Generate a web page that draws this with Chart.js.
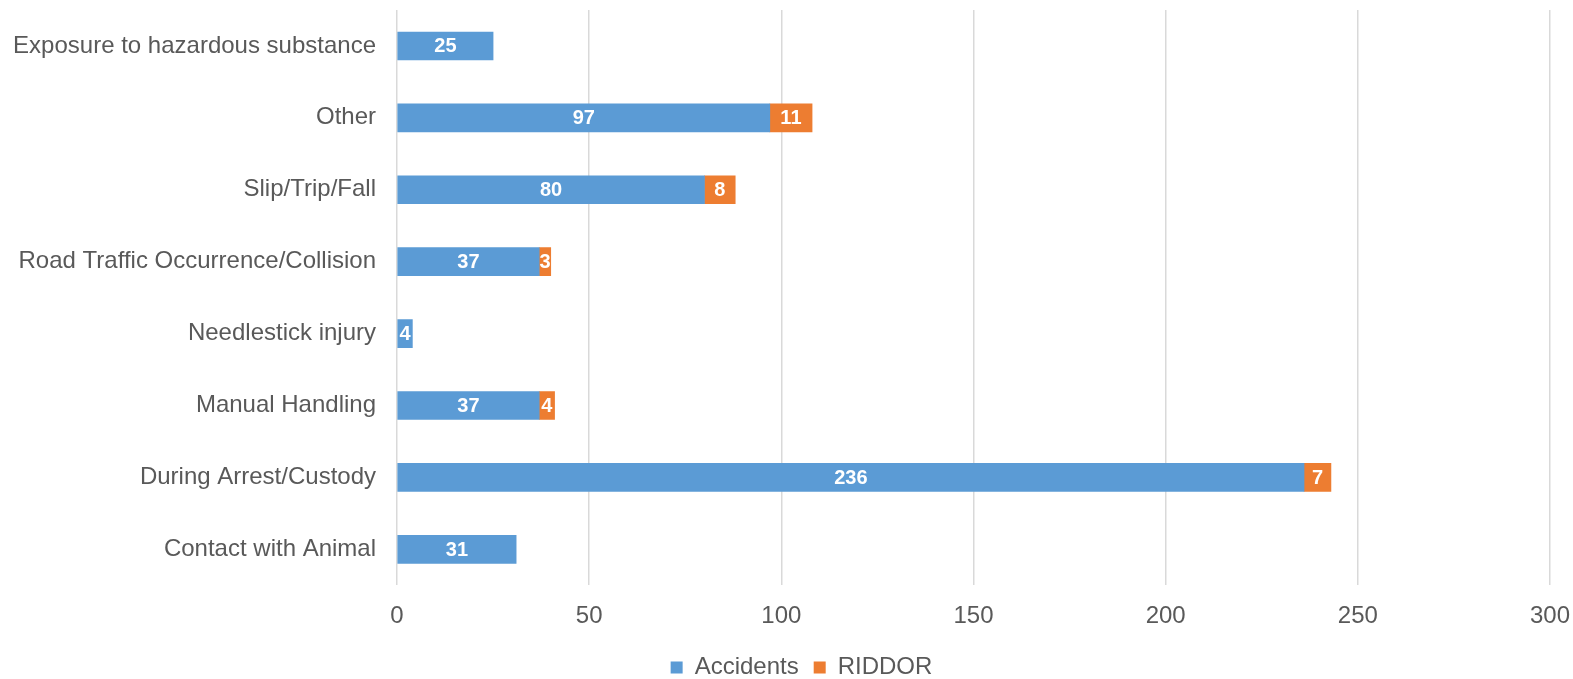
<!DOCTYPE html>
<html>
<head>
<meta charset="utf-8">
<script src="https://cdn.jsdelivr.net/npm/chart.js@4"></script>
<style>
html,body{margin:0;padding:0;background:#fff;}
#wrap{width:1573px;height:679px;position:relative;}
</style>
</head>
<body>
<div id="wrap"><canvas id="c"></canvas></div>
<script>
const categories = ["Exposure to hazardous substance","Other","Slip/Trip/Fall","Road Traffic Occurrence/Collision","Needlestick injury","Manual Handling","During Arrest/Custody","Contact with Animal"];
const accidents = [25, 97, 80, 37, 4, 37, 236, 31];
const riddor = [null, 11, 8, 3, null, 4, 7, null];
const xTicks = [0, 50, 100, 150, 200, 250, 300];

const FONT = "'Liberation Sans', Arial, sans-serif";

const labelPlugin = {
  id: 'barLabels',
  afterDatasetsDraw(chart) {
    const ctx = chart.ctx;
    ctx.save();
    ctx.fillStyle = '#ffffff';
    ctx.font = "bold 20px " + FONT;
    ctx.textAlign = 'center';
    ctx.textBaseline = 'middle';
    chart.data.datasets.forEach((ds, i) => {
      const meta = chart.getDatasetMeta(i);
      meta.data.forEach((el, j) => {
        const v = ds.data[j];
        if (v === null || v === undefined) return;
        const p = el.getProps(['x','y','base'], true);
        ctx.fillText(String(v), (p.x + p.base) / 2, p.y + 1);
      });
    });
    ctx.restore();
  }
};

const legendShift = {
  id: 'legendShift',
  afterLayout(chart) {
    if (chart.legend) { chart.legend.left += 15; chart.legend.right += 15; }
  }
};

new Chart(document.getElementById('c'), {
  type: 'bar',
  data: {
    labels: categories,
    datasets: [
      {label: 'Accidents', data: accidents, backgroundColor: '#5B9BD5', barThickness: 28},
      {label: 'RIDDOR', data: riddor, backgroundColor: '#ED7D31', barThickness: 28}
    ]
  },
  options: {
    indexAxis: 'y',
    responsive: true,
    maintainAspectRatio: false,
    animation: false,
    layout: {padding: {left: 0, right: 0, top: 10, bottom: -10.4}},
    plugins: {
      legend: {
        position: 'bottom',
        labels: {boxWidth: 12, boxHeight: 12, font: {family: FONT, size: 24}, color: '#595959', padding: 15}
      },
      tooltip: {enabled: false}
    },
    scales: {
      x: {
        stacked: true,
        min: 0, max: 300,
        afterBuildTicks(axis) { axis.ticks = xTicks.map(v => ({value: v})); },
        afterFit(axis) { axis.height = 55.1; axis.paddingLeft = 0; axis.paddingRight = 23; },
        grid: {color: '#D9D9D9', lineWidth: 1.5, drawTicks: false},
        border: {display: false},
        ticks: {font: {family: FONT, size: 24}, color: '#595959', padding: 17, maxRotation: 0}
      },
      y: {
        stacked: true,
        grid: {display: false, drawTicks: false},
        border: {display: false},
        afterFit(axis) { axis.width = 397; axis.paddingTop = 0; axis.paddingBottom = 0; },
        ticks: {font: {family: FONT, size: 24}, color: '#595959', padding: 21}
      }
    }
  },
  plugins: [labelPlugin, legendShift]
});
</script>
</body>
</html>
